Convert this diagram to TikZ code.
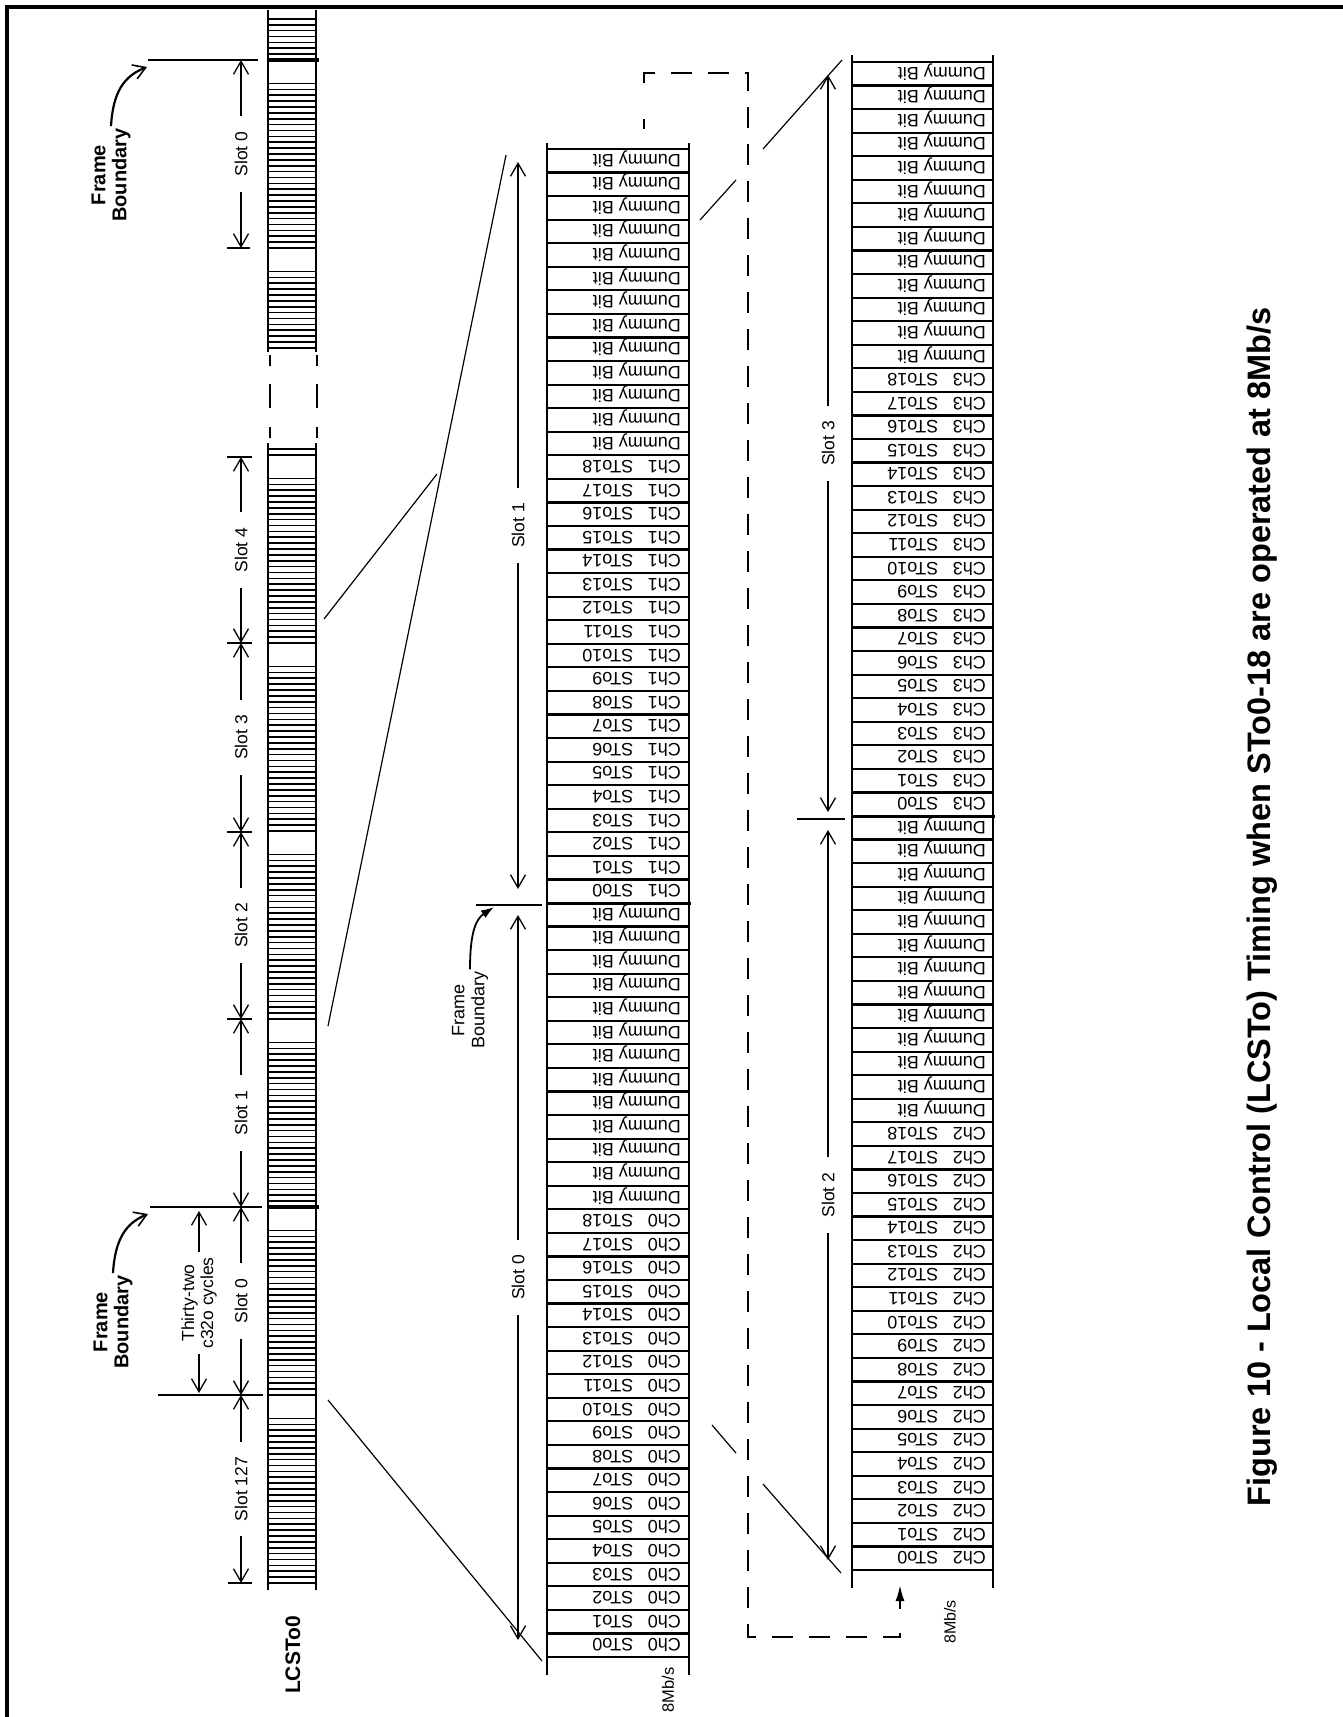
\documentclass[tikz,border=0pt]{standalone}
\usepackage{fontspec}
\setmainfont{Liberation Sans}
\usetikzlibrary{arrows.meta}
\newcommand{\mydim}[5]{%
  \coordinate (#1t) at (#2,#3);
  \coordinate (#1b) at (#2,#4);
  \node[slotlbl] (#1) at (#2,{(#3+#4)/2}) {#5};
  \draw[dimline] (#1) -- (#1t);
  \draw[dimline] (#1) -- (#1b);
}
\begin{document}
\begin{tikzpicture}[x=1pt,y=-1pt,
  border/.style={line width=3.5pt},
  tabline/.style={line width=2.2pt},
  barv/.style={line width=2.5pt},
  barh/.style={line width=1.7pt},
  thinline/.style={line width=1.2pt},
  tick/.style={line width=1.8pt},
  dimline/.style={line width=1.8pt,-{Straight Barb[length=13pt,width=15pt,line width=1.3pt]}},
  slotlbl/.style={rotate=90,font=\fontsize{17.5}{20}\selectfont,inner xsep=15pt,inner ysep=0pt},
  cell/.style={rotate=180,anchor=base west,inner sep=0pt,font=\fontsize{18}{20}\selectfont},
  fbbold/.style={rotate=90,align=center,font=\bfseries\fontsize{20}{21}\selectfont,inner sep=2pt},
  fbreg/.style={rotate=90,align=center,font=\fontsize{18}{20}\selectfont,inner sep=2pt},
  fbarrow/.style={line width=2.2pt,-{Straight Barb[length=12pt,width=15pt,line width=1.6pt]}},
  dashrect/.style={line width=2.5pt,dash pattern=on 21pt off 16pt},
  rate/.style={rotate=90,font=\fontsize{#1}{18}\selectfont,inner sep=0pt},
]
\useasboundingbox (0,0) rectangle (1342,1717);
% page border (top and left edges visible)
\draw[border] (7,1720) -- (7,7) -- (1345,7);

% ---------------- LCSTo0 bar ----------------
\draw[barv] (268,10) -- (268,352);
\draw[barv] (316,10) -- (316,352);
\draw[barv] (268,443) -- (268,1590);
\draw[barv] (316,443) -- (316,1590);
\begin{scope}
  \clip (260,15) rectangle (325,352);
  \foreach \b in {-128,60,248}{
    \draw[barh] (268,\b) -- (316,\b);
    \foreach \k in {4,...,31}{\draw[barh] (268,{\b+\k*5.875}) -- (316,{\b+\k*5.875});}
  }
\end{scope}
\begin{scope}
  \clip (260,445) rectangle (325,1586);
  \foreach \b in {267,455,643,831,1019,1207,1395,1583}{
    \draw[barh] (268,\b) -- (316,\b);
    \foreach \k in {4,...,31}{\draw[barh] (268,{\b+\k*5.875}) -- (316,{\b+\k*5.875});}
  }
\end{scope}
\draw[line width=3.5pt] (268,60) -- (319,60);
\draw[line width=3.5pt] (268,1207) -- (319,1207);
% break of the bar
\draw[barv] (270,355) -- (270,366) (270,384) -- (270,408) (270,427) -- (270,438);
\draw[barv] (317,355) -- (317,366) (317,384) -- (317,408) (317,427) -- (317,438);
\node[font=\bfseries\fontsize{21}{22}\selectfont,rotate=90] (lcsto) at (293,1655) {LCSTo0};

% ---------------- slot dimensions beside the bar ----------------
\draw[line width=1.5pt] (148,60) -- (258,60);
\draw[tick] (227,248) -- (250,248);
\mydim{sa}{241}{60}{248}{Slot 0}
\draw[tick] (227,457) -- (252,457);
\draw[tick] (227,643) -- (252,643);
\draw[tick] (227,832) -- (252,832);
\draw[tick] (227,1019) -- (252,1019);
\draw[tick] (150,1207) -- (262,1207);
\draw[tick] (158,1395) -- (263,1395);
\draw[tick] (228,1583) -- (252,1583);
\mydim{sb}{241}{457}{643}{Slot 4}
\mydim{sc}{241}{643}{832}{Slot 3}
\mydim{sd}{241}{832}{1019}{Slot 2}
\mydim{se}{241}{1019}{1207}{Slot 1}
\mydim{sf}{241}{1207}{1395}{Slot 0}
\mydim{sg}{241}{1395}{1583}{Slot 127}
% thirty-two cycles
\coordinate (ttt) at (199,1211);
\coordinate (ttb) at (199,1393);
\node[rotate=90,align=center,font=\fontsize{17.5}{19}\selectfont,inner xsep=5pt,inner ysep=0pt] (tt) at (199,1303) {Thirty-two\\c32o cycles};
\draw[dimline] (tt) -- (ttt);
\draw[dimline] (tt) -- (ttb);
% frame boundary labels
\node[fbbold] (fb1) at (111,175) {Frame\\Boundary};
\draw[fbarrow] (fb1.east) .. controls (113,92) and (124,76) .. (147,67);
\node[fbbold] (fb2) at (113,1322) {Frame\\Boundary};
\draw[fbarrow] (fb2.east) .. controls (115,1239) and (126,1223) .. (148,1214);

% ---------------- left table (slots 0 and 1) ----------------
\draw[tabline] (547,143) -- (547,1675);
\draw[tabline] (689,143) -- (689,1675);
\foreach \r in {0,...,64}{\draw[tabline] (547,{1657-\r*23.5625}) -- (689,{1657-\r*23.5625});}
\draw[line width=3pt] (547,903) -- (691,903);
\foreach \r in {0,...,63}{
  \pgfmathtruncatemacro{\ch}{\r<32 ? 0 : 1}
  \pgfmathtruncatemacro{\bt}{mod(\r,32)}
  \pgfmathsetmacro{\yy}{1657-(\r+0.5)*23.5625-6.5}
  \ifnum\bt<19
    \node[cell] (L\r) at (681,\yy) {Ch\ch\hspace{0.8em}STo\bt};
  \else
    \node[cell] (L\r) at (681,\yy) {Dummy Bit};
  \fi
}
\node[rate=16.5] (rl) at (668,1690) {8Mb/s};
\draw[tick] (476,905) -- (542,905);
\mydim{ta}{518}{162}{889}{Slot 1}
\mydim{tb}{518}{915}{1640}{Slot 0}
\node[fbreg] (fb3) at (470,1010) {Frame\\Boundary};
\draw[line width=1.8pt,-{Latex[length=13pt,width=9pt]}] (fb3.east) .. controls (470,932) and (476,919) .. (494,907);

% ---------------- right table (slots 2 and 3) ----------------
\draw[tabline] (852,55) -- (852,1588);
\draw[tabline] (993,55) -- (993,1588);
\foreach \r in {0,...,64}{\draw[tabline] (852,{1570-\r*23.5625}) -- (993,{1570-\r*23.5625});}
\draw[line width=3pt] (852,816) -- (995,816);
\foreach \r in {0,...,63}{
  \pgfmathtruncatemacro{\ch}{\r<32 ? 2 : 3}
  \pgfmathtruncatemacro{\bt}{mod(\r,32)}
  \pgfmathsetmacro{\yy}{1570-(\r+0.5)*23.5625-6.5}
  \ifnum\bt<19
    \node[cell] (R\r) at (986,\yy) {Ch\ch\hspace{0.8em}STo\bt};
  \else
    \node[cell] (R\r) at (986,\yy) {Dummy Bit};
  \fi
}
\node[rate=16] (rr) at (950,1622) {8Mb/s};
\draw[tick] (797,819) -- (845,819);
\mydim{ua}{828}{75}{812}{Slot 3}
\mydim{ub}{828}{830}{1560}{Slot 2}

% ---------------- dashed continuation path ----------------
\draw[line width=2.5pt] (644,129) -- (644,119);
\draw[dashrect] (644,83) -- (644,73) -- (748,73) -- (748,1637) -- (900,1637) -- (900,1627);
\coordinate (ar0) at (900,1609);
\coordinate (ar1) at (900,1585);
\draw[line width=2pt,-{Latex[length=16pt,width=9pt]}] (ar0) -- (ar1);

% ---------------- expansion lines ----------------
\coordinate (e1a) at (328,1026); \coordinate (e1b) at (506,155);
\coordinate (e2a) at (324,619);  \coordinate (e2b) at (437,474);
\coordinate (e3a) at (328,1400); \coordinate (e3b) at (542,1661);
\coordinate (e4a) at (700,220);  \coordinate (e4b) at (736,180);
\coordinate (e4c) at (763,149);  \coordinate (e4d) at (842,60);
\coordinate (e5a) at (712,1425); \coordinate (e5b) at (736,1453);
\coordinate (e5c) at (763,1484); \coordinate (e5d) at (841,1573);
\draw[thinline] (e1a) -- (e1b);
\draw[thinline] (e2a) -- (e2b);
\draw[thinline] (e3a) -- (e3b);
\draw[thinline] (e4a) -- (e4b) (e4c) -- (e4d);
\draw[thinline] (e5a) -- (e5b) (e5c) -- (e5d);

% ---------------- caption ----------------
\node[rotate=90,anchor=east,font=\bfseries\fontsize{32.5}{34}\selectfont,inner sep=0pt] (title) at (1262,307)
  {Figure 10 - Local Control (LCSTo) Timing when STo0-18 are operated at 8Mb/s};
\end{tikzpicture}
\end{document}
